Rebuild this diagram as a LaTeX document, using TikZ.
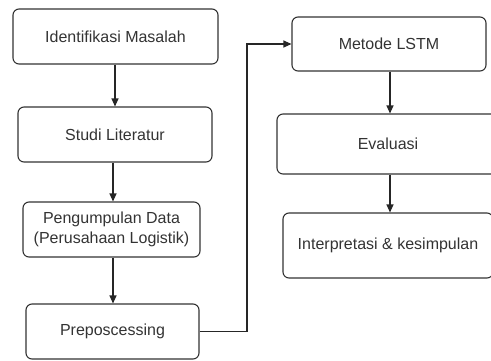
\documentclass[tikz,border=0pt]{standalone}
\usepackage{fontspec}
\setmainfont{Liberation Sans}
\usetikzlibrary{arrows.meta,calc}
\begin{document}
\begin{tikzpicture}[x=1pt,y=-1pt,
  box/.style={draw=black!80, line width=1.1pt, rounded corners=6pt, text=black!80,
    inner sep=0pt, align=center, font=\fontsize{16}{20}\selectfont},
  conn/.style={draw=black!85, line width=1.1pt, -{Triangle[length=8pt,width=7pt]}}]
\useasboundingbox (0,0) rectangle (491,360);
\node[box, minimum width=205pt, minimum height=55pt] (b1) at (115.5,36.5) {Identifikasi Masalah};
\node[box, minimum width=194pt, minimum height=55pt] (b2) at (115,134.5) {Studi Literatur};
\node[box, minimum width=177pt, minimum height=55pt] (b3) at (111.5,229.5) {Pengumpulan Data\\(Perusahaan Logistik)};
\node[box, minimum width=173pt, minimum height=55pt] (b4) at (112.5,331.5) {Preposcessing};
\node[box, minimum width=194pt, minimum height=54pt] (m) at (389,44) {Metode LSTM};
\node[box, minimum width=222pt, minimum height=60pt] (e) at (388,144) {Evaluasi};
\node[box, minimum width=210pt, minimum height=65pt] (ip) at (388,245.5) {Interpretasi \& kesimpulan};
\coordinate (t1) at (115,0);
\coordinate (t2) at (113,0);
\coordinate (t3) at (390,0);
\draw[conn] (t1 |- b1.south) -- (t1 |- b2.north);
\draw[conn] (t2 |- b2.south) -- (t2 |- b3.north);
\draw[conn] (t2 |- b3.south) -- (t2 |- b4.north);
\draw[conn] (t3 |- m.south) -- (t3 |- e.north);
\draw[conn] (t3 |- e.south) -- (t3 |- ip.north);
\coordinate (k) at (247,0);
\draw[conn] (b4.east) -- (k |- b4.east) -- (k |- m.west) -- (m.west);
\end{tikzpicture}
\end{document}
